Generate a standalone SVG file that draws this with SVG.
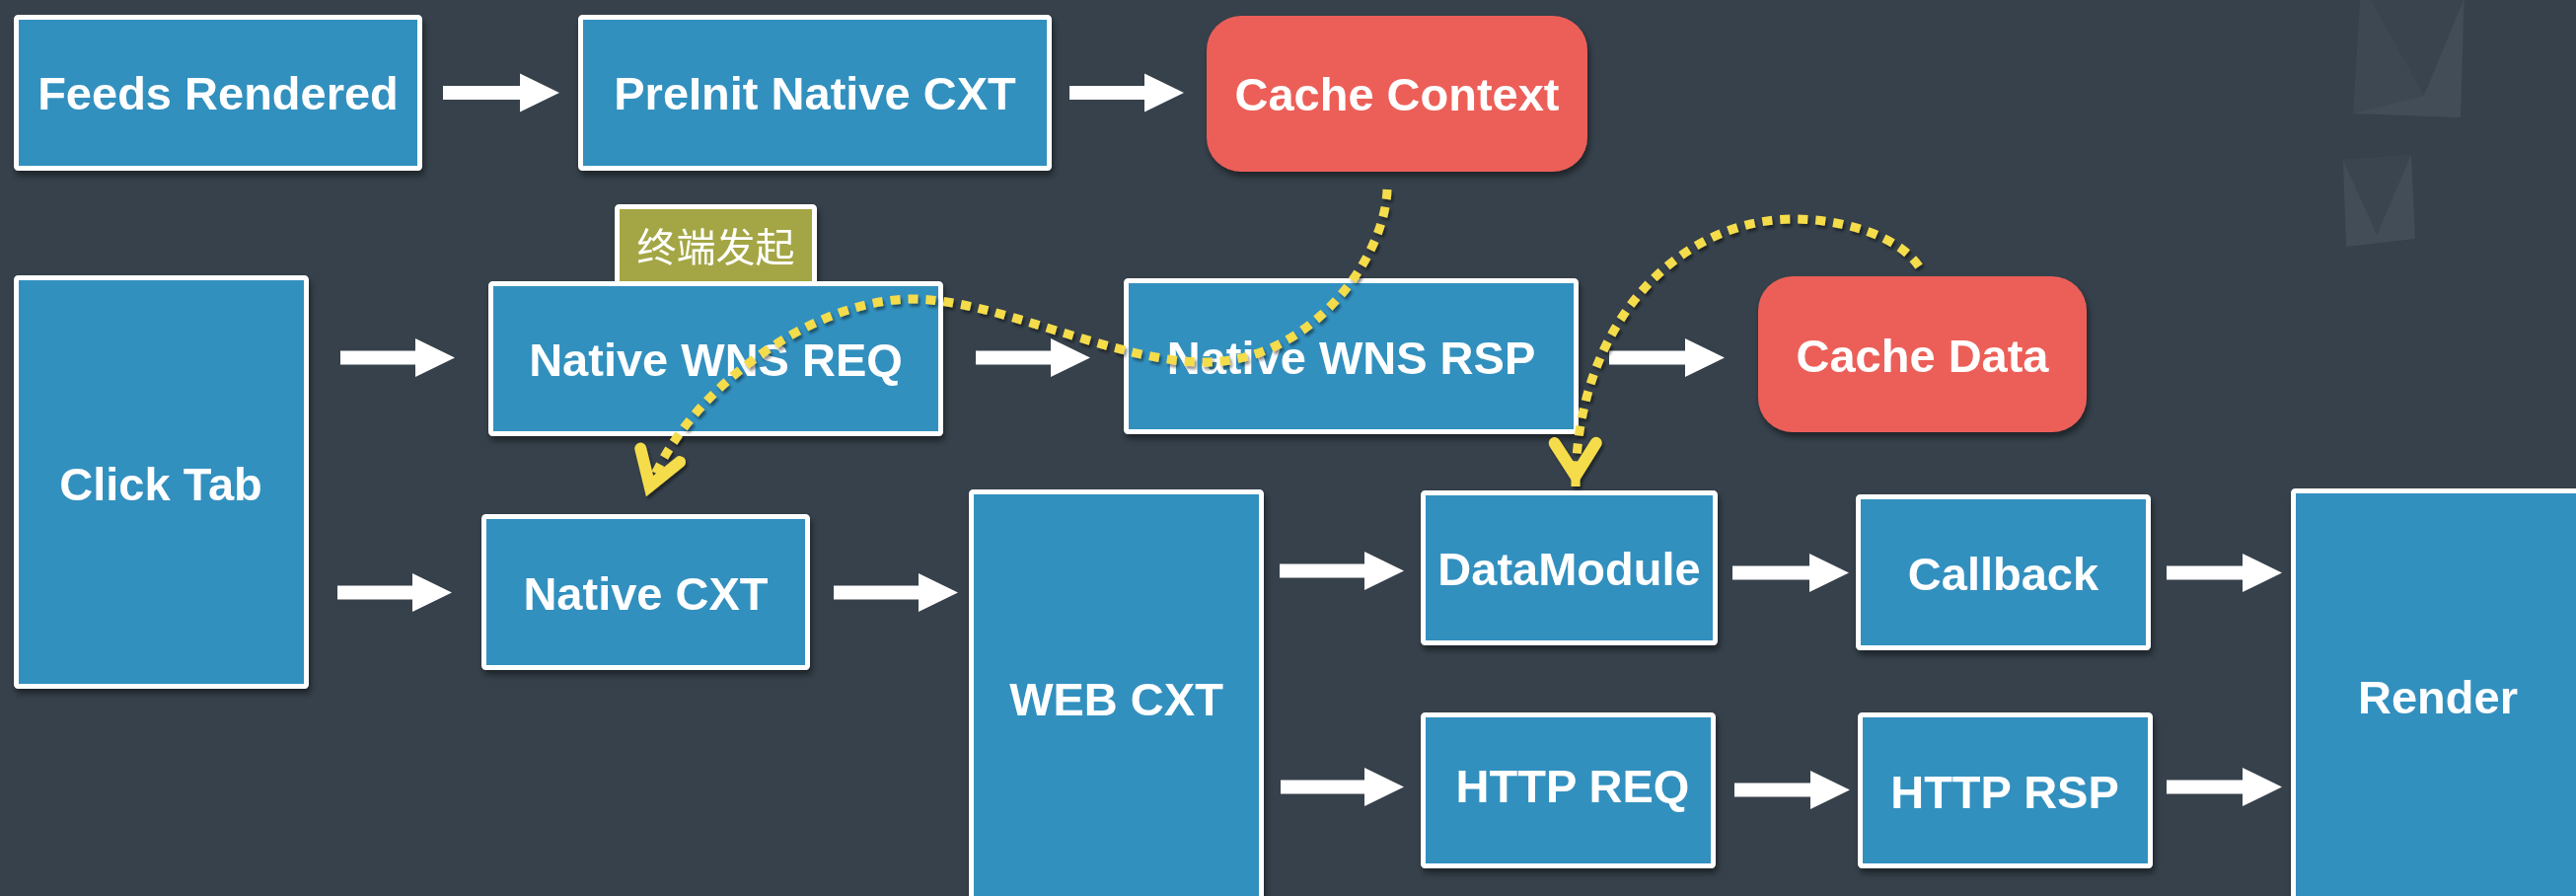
<svg xmlns="http://www.w3.org/2000/svg" width="2611" height="908" viewBox="0 0 2611 908">
<defs>
<style>
.box{fill:#3290BF;stroke:#FFFFFF;stroke-width:5}
.red{fill:#EC5E58}
.t{font-family:"Liberation Sans",Arial,sans-serif;font-weight:bold;font-size:47px;fill:#FFFFFF;text-anchor:middle}
.cjk{font-family:"Noto Sans CJK SC","Noto Sans",sans-serif;font-size:40px;fill:#FFFFFF;text-anchor:middle}
.arr{fill:#FFFFFF}
.dash{fill:none;stroke:#F5DC4C;stroke-width:9;stroke-dasharray:10 8}
</style>
<filter id="sh" x="-10%" y="-10%" width="130%" height="140%">
<feDropShadow dx="2" dy="5" stdDeviation="3" flood-color="#000000" flood-opacity="0.45"/>
</filter>
<filter id="ysh" x="-10%" y="-10%" width="130%" height="130%">
<feDropShadow dx="2" dy="3" stdDeviation="1.5" flood-color="#000000" flood-opacity="0.45"/>
</filter>
<marker id="yarrow" markerUnits="userSpaceOnUse" orient="auto" markerWidth="1" markerHeight="1" refX="0" refY="0" style="overflow:visible">
<path d="M-44,-21 L-11,0 L-44,21" fill="none" stroke="#F5DC4C" stroke-width="12" stroke-linecap="round" stroke-linejoin="miter"/>
</marker>
</defs>
<rect x="0" y="0" width="2611" height="908" fill="#36414B"/>
<g id="decor">
<polygon points="2385,115 2392,0 2498,0 2494,119" fill="#3E4852"/>
<polygon points="2403,0 2457,97 2497,0" fill="#3A444E"/>
<polygon points="2457,97 2497,0 2494,119 2385,115" fill="#434D57"/>
<polygon points="2375,162 2444,157 2448,242 2378,250" fill="#434D57"/>
<polygon points="2375,162 2409,238 2444,157" fill="#3B454F"/>
</g>
<g id="feeds" filter="url(#sh)">
<rect class="box" x="16.5" y="17.5" width="409" height="153" rx="2"/>
<text class="t" x="221" y="111">Feeds Rendered</text>
</g>
<g id="preinit" filter="url(#sh)">
<rect class="box" x="588.5" y="17.5" width="475" height="153" rx="2"/>
<text class="t" x="826" y="111">PreInit Native CXT</text>
</g>
<g id="cachecontext" filter="url(#sh)">
<rect class="red" x="1223" y="16" width="386" height="158" rx="35"/>
<text class="t" x="1416" y="112">Cache Context</text>
</g>
<g id="clicktab" filter="url(#sh)">
<rect class="box" x="16.5" y="281.5" width="294" height="414" rx="2"/>
<text class="t" x="163" y="507">Click Tab</text>
</g>
<g id="label" filter="url(#sh)">
<rect x="625.5" y="209.5" width="200" height="80" fill="#A4A645" stroke="#FFFFFF" stroke-width="5" rx="2"/>
<text class="cjk" x="725.5" y="265">终端发起</text>
</g>
<g id="wnsreq" filter="url(#sh)">
<rect class="box" x="497.5" y="287.5" width="456" height="152" rx="2"/>
<text class="t" x="725.5" y="381">Native WNS REQ</text>
</g>
<g id="wnsrsp" filter="url(#sh)">
<rect class="box" x="1141.5" y="284.5" width="456" height="153" rx="2"/>
<text class="t" x="1369.5" y="379">Native WNS RSP</text>
</g>
<g id="cachedata" filter="url(#sh)">
<rect class="red" x="1782" y="280" width="333" height="158" rx="35"/>
<text class="t" x="1948.5" y="377">Cache Data</text>
</g>
<g id="nativecxt" filter="url(#sh)">
<rect class="box" x="490.5" y="523.5" width="328" height="153" rx="2"/>
<text class="t" x="654.5" y="618">Native CXT</text>
</g>
<g id="webcxt" filter="url(#sh)">
<rect class="box" x="984.5" y="498.5" width="294" height="420" rx="2"/>
<text class="t" x="1131.5" y="725">WEB CXT</text>
</g>
<g id="datamodule" filter="url(#sh)">
<rect class="box" x="1442.5" y="499.5" width="296" height="152" rx="2"/>
<text class="t" x="1590.5" y="593">DataModule</text>
</g>
<g id="callback" filter="url(#sh)">
<rect class="box" x="1883.5" y="503.5" width="294" height="153" rx="2"/>
<text class="t" x="2030.5" y="598">Callback</text>
</g>
<g id="httpreq" filter="url(#sh)">
<rect class="box" x="1442.5" y="724.5" width="294" height="153" rx="2"/>
<text class="t" x="1594" y="813">HTTP REQ</text>
</g>
<g id="httprsp" filter="url(#sh)">
<rect class="box" x="1885.5" y="724.5" width="294" height="153" rx="2"/>
<text class="t" x="2032" y="819">HTTP RSP</text>
</g>
<g id="render" filter="url(#sh)">
<rect class="box" x="2324.5" y="497.5" width="294" height="430" rx="2"/>
<text class="t" x="2471" y="723">Render</text>
</g>
<g id="connectors">
<path class="arr" d="M449,87 H527 V74.5 L567,94 L527,113.5 V101 H449 Z"/>
<path class="arr" d="M1084,87 H1160 V74.5 L1200,94 L1160,113.5 V101 H1084 Z"/>
<path class="arr" d="M345,355.5 H421 V343 L461,362.5 L421,382 V369.5 H345 Z"/>
<path class="arr" d="M989,355.5 H1065 V343 L1105,362.5 L1065,382 V369.5 H989 Z"/>
<path class="arr" d="M1631,355.5 H1708 V343 L1748,362.5 L1708,382 V369.5 H1631 Z"/>
<path class="arr" d="M342,593.5 H418 V581 L458,600.5 L418,620 V607.5 H342 Z"/>
<path class="arr" d="M845,593.5 H931 V581 L971,600.5 L931,620 V607.5 H845 Z"/>
<path class="arr" d="M1297,571.5 H1383 V559 L1423,578.5 L1383,598 V585.5 H1297 Z"/>
<path class="arr" d="M1298,790.5 H1383 V778 L1423,797.5 L1383,817 V804.5 H1298 Z"/>
<path class="arr" d="M1756,573.5 H1834 V561 L1874,580.5 L1834,600 V587.5 H1756 Z"/>
<path class="arr" d="M2196,573.5 H2273 V561 L2313,580.5 L2273,600 V587.5 H2196 Z"/>
<path class="arr" d="M1758,793.5 H1835 V781 L1875,800.5 L1835,820 V807.5 H1758 Z"/>
<path class="arr" d="M2196,790.5 H2273 V778 L2313,797.5 L2273,817 V804.5 H2196 Z"/>
<g filter="url(#ysh)">
<path class="dash" d="M1406,192 C1404,260 1330,367 1221,367 C1130,367 1010,303 925,303 C820,303 690,400 655,503" marker-end="url(#yarrow)"/>
<path class="dash" d="M1945,270 C1925,240 1870,222 1818,222 C1700,222 1596,330 1597,493" marker-end="url(#yarrow)"/>
</g>
</g>
</svg>
